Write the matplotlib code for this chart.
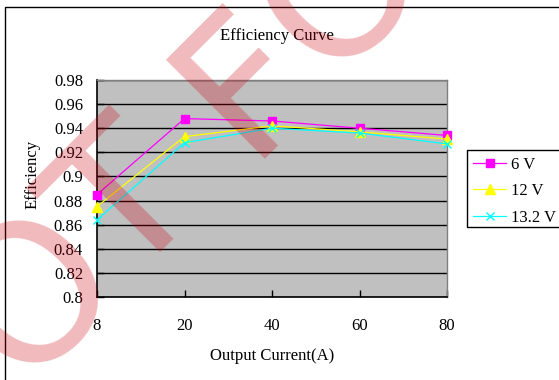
import matplotlib.pyplot as plt
from matplotlib.patches import Rectangle

# output current categories (A) and measured efficiency per input voltage
currents = ['8', '20', '40', '60', '80']
eff_6v = [0.885, 0.948, 0.946, 0.940, 0.934]
eff_12v = [0.875, 0.933, 0.942, 0.937, 0.931]
eff_13v2 = [0.864, 0.928, 0.940, 0.936, 0.927]
series_names = ['6 V', '12 V', '13.2 V']

y_ticks = [0.8, 0.82, 0.84, 0.86, 0.88, 0.9, 0.92, 0.94, 0.96, 0.98]
y_tick_labels = ['0.8', '0.82', '0.84', '0.86', '0.88', '0.9', '0.92', '0.94', '0.96', '0.98']

W, H = 559, 380
plt.rcParams['font.family'] = ['Liberation Serif', 'DejaVu Serif']
plt.rcParams['font.size'] = 12

fig = plt.figure(figsize=(W / 100, H / 100), dpi=100)
fig.patch.set_facecolor('white')

def fx(px):
    return px / W

def fy(py):
    return 1 - py / H

# chart area frame (runs off the right and bottom edges)
fig.add_artist(Rectangle((fx(5), fy(400)), 1.2, fy(7) - fy(400), transform=fig.transFigure,
                         fill=False, edgecolor='black', linewidth=1.0, clip_on=False))

ax = fig.add_axes([fx(97), fy(297), fx(447) - fx(97), fy(80) - fy(297)])
ax.set_facecolor('#C0C0C0')

x = list(range(len(currents)))
styles = [
    (eff_6v, '#FF00FF', 's', 5.5),
    (eff_12v, '#FFFF00', '^', 6.5),
    (eff_13v2, '#00FFFF', 'x', 6),
]
handles = []
for (vals, color, marker, ms), name in zip(styles, series_names):
    line, = ax.plot(x, vals, color=color, marker=marker, markersize=ms, linewidth=0.9,
                    markeredgewidth=1.0, label=name, clip_on=False, zorder=3)
    handles.append(line)

ax.set_xlim(0, len(currents) - 1)
ax.set_ylim(0.8, 0.98)
ax.set_xticks(x)
ax.set_xticklabels(currents)
ax.set_yticks(y_ticks)
ax.set_yticklabels(y_tick_labels)
ax.yaxis.grid(True, color='black', linewidth=1.0)
ax.set_axisbelow(True)
ax.tick_params(axis='x', direction='in', length=5, width=1, pad=15, labelsize=12)
ax.tick_params(axis='y', direction='in', length=5, width=1, pad=10, labelsize=12)

for side in ('top', 'right'):
    ax.spines[side].set_color('#808080')
    ax.spines[side].set_linewidth(1.0)
for side in ('left', 'bottom'):
    ax.spines[side].set_color('black')
    ax.spines[side].set_linewidth(1.2)

fig.text(fx(277), fy(36), 'Efficiency Curve', ha='center', va='center', fontsize=12)
fig.text(fx(33), fy(174), 'Efficiency', ha='center', va='center', rotation=90, fontsize=12)
fig.text(fx(272), fy(356), 'Output Current(A)', ha='center', va='center', fontsize=12)

# legend box, also cut off by the right edge
fig.add_artist(Rectangle((fx(467), fy(227)), 0.3, fy(150) - fy(227), transform=fig.transFigure,
                         facecolor='white', edgecolor='black', linewidth=1.0, clip_on=False,
                         zorder=2))
leg = fig.legend(handles=handles, loc='upper left', bbox_to_anchor=(fx(473), fy(157)),
                 bbox_transform=fig.transFigure, frameon=False, borderpad=0, borderaxespad=0,
                 handlelength=2.0, handletextpad=0.3, labelspacing=0.62, fontsize=12)
leg.set_zorder(3)

# diagonal red stamp across the chart
stamp_letters = ['O', 'T', 'F', 'O']
stamp_centers = [(36, 296), (129, 208), (247, 82), (343, -10)]
for letter, (px, py) in zip(stamp_letters, stamp_centers):
    fig.text(fx(px), fy(py), letter, ha='center', va='center', rotation=45,
             rotation_mode='anchor', fontsize=138, family='DejaVu Sans',
             color=(0.8, 0.0, 0.05, 0.27), zorder=10)

fig.savefig('out.png', dpi=100)
